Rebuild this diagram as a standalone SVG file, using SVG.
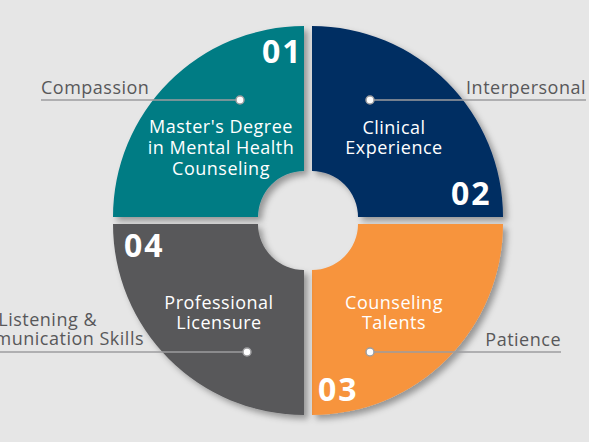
<svg xmlns="http://www.w3.org/2000/svg" width="589" height="442" viewBox="0 0 589 442">
<style>
.lbl{font-family:"Open Sans","Liberation Sans",sans-serif;font-size:18px;letter-spacing:0.5px;fill:#58585a}
.in{font-family:"Open Sans","Liberation Sans",sans-serif;font-size:18px;letter-spacing:0.5px;fill:#ffffff;text-anchor:middle}
.num{font-family:"Open Sans","Liberation Sans",sans-serif;font-size:32px;font-weight:bold;letter-spacing:2px;fill:#ffffff}
.ln{stroke:#9d9d9f;stroke-width:1.5;fill:none}
.dot{fill:#ffffff;stroke:#9d9d9f;stroke-width:1.5}
</style>
<defs>
<filter id="sh" x="-10%" y="-10%" width="130%" height="130%">
<feDropShadow dx="4" dy="4" stdDeviation="3" flood-color="#000" flood-opacity="0.35"/>
</filter>
</defs>
<rect width="589" height="442" fill="#e6e6e6"/>
<g id="node-01">
<path d="M113,217 A191,191 0 0 1 304,26 L304,171 A46,46 0 0 0 258,217 Z" fill="#027b84" filter="url(#sh)"/>
<text class="num" x="262" y="63">01</text>
<text class="in" x="221" y="133">Master's Degree</text>
<text class="in" x="221" y="154">in Mental Health</text>
<text class="in" x="221" y="175">Counseling</text>
</g>
<g id="node-02">
<path d="M312,26 A191,191 0 0 1 503,217 L358,217 A46,46 0 0 0 312,171 Z" fill="#002d62" filter="url(#sh)"/>
<text class="num" x="451" y="205">02</text>
<text class="in" x="394" y="134">Clinical</text>
<text class="in" x="394" y="154">Experience</text>
</g>
<g id="node-03">
<path d="M503,224 A191,191 0 0 1 312,415 L312,270 A46,46 0 0 0 358,224 Z" fill="#f7943e" filter="url(#sh)"/>
<text class="num" x="318" y="401">03</text>
<text class="in" x="394" y="309">Counseling</text>
<text class="in" x="394" y="329">Talents</text>
</g>
<g id="node-04">
<path d="M304,415 A191,191 0 0 1 113,224 L258,224 A46,46 0 0 0 304,270 Z" fill="#58585a" filter="url(#sh)"/>
<text class="num" x="124" y="257">04</text>
<text class="in" x="219" y="309">Professional</text>
<text class="in" x="219" y="329">Licensure</text>
</g>
<g id="connectors">
<line class="ln" x1="41" y1="100" x2="240" y2="100"/>
<circle class="dot" cx="240" cy="100" r="4"/>
<line class="ln" x1="370" y1="100" x2="586" y2="100"/>
<circle class="dot" cx="370" cy="100" r="4"/>
<line class="ln" x1="0" y1="352" x2="247" y2="352"/>
<circle class="dot" cx="247" cy="352" r="4"/>
<line class="ln" x1="370" y1="352" x2="561" y2="352"/>
<circle class="dot" cx="370" cy="352" r="4"/>
</g>
<g id="labels">
<text class="lbl" x="41" y="94">Compassion</text>
<text class="lbl" x="586" y="94" text-anchor="end">Interpersonal</text>
<text class="lbl" x="97" y="326" text-anchor="end">Listening &amp;</text>
<text class="lbl" x="144" y="345" text-anchor="end">Communication Skills</text>
<text class="lbl" x="561" y="346" text-anchor="end">Patience</text>
</g>
</svg>
